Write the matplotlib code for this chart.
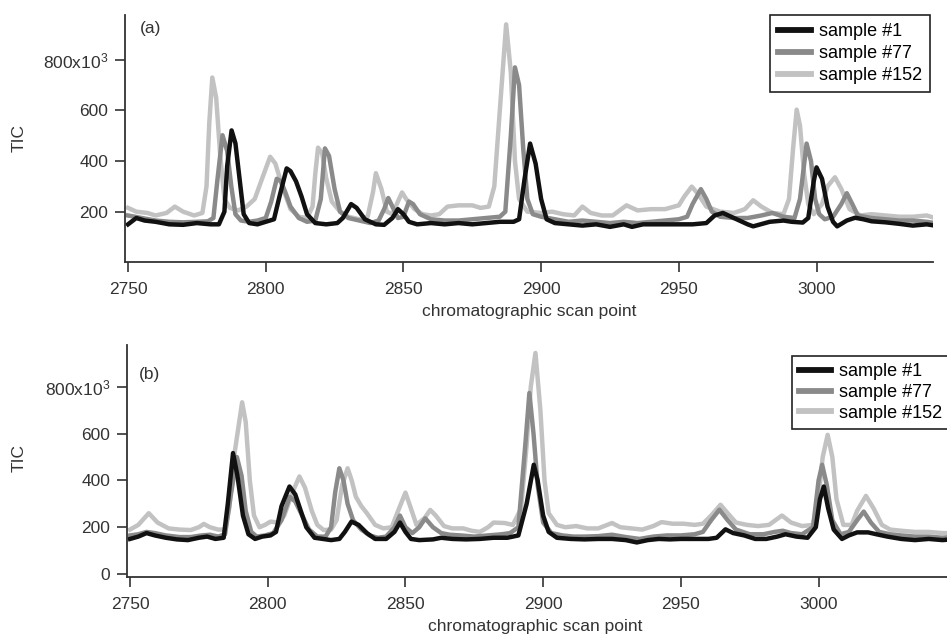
import numpy as np
import matplotlib
matplotlib.use("Agg")
import matplotlib.pyplot as plt

plt.rcParams['font.family'] = ['Liberation Sans', 'DejaVu Sans']
plt.rcParams['mathtext.fontset'] = 'custom'
plt.rcParams['mathtext.rm'] = 'Liberation Sans'
plt.rcParams['mathtext.it'] = 'Liberation Sans'

W, H = 947, 637

# ---- data (scan point, TIC in thousands) ----
# panel (a): raw chromatograms
a_s1_x = [2750, 2753, 2756, 2760, 2765, 2770, 2775, 2780, 2783, 2785, 2786, 2787.6, 2789, 2790.5, 2792, 2794,
          2797, 2800, 2803, 2805, 2807.6, 2809, 2811, 2813, 2815, 2818, 2822, 2826, 2828, 2831, 2833, 2836,
          2840, 2843, 2846, 2848, 2850, 2852, 2855, 2860, 2865, 2870, 2875, 2880, 2885, 2890, 2892, 2894,
          2896, 2898, 2900, 2902, 2905, 2910, 2915, 2920, 2925, 2930, 2933, 2937, 2945, 2950, 2955, 2960,
          2963, 2966, 2970, 2975, 2977, 2983, 2988, 2991, 2995, 2997, 2999, 3000, 3002, 3004, 3006, 3007.5,
          3011, 3014, 3017, 3020, 3025, 3030, 3035, 3040, 3043]
a_s1_y = [150, 175, 165, 160, 150, 148, 155, 150, 150, 200, 380, 521, 470, 330, 190, 155,
          150, 160, 170, 260, 371, 360, 320, 260, 190, 155, 150, 155, 175, 230, 215, 170,
          150, 148, 175, 210, 190, 160, 150, 155, 150, 155, 150, 155, 160, 160, 170, 330,
          469, 390, 250, 170, 155, 150, 145, 150, 140, 150, 140, 150, 150, 150, 150, 155,
          185, 195, 175, 150, 142, 160, 165, 160, 157, 175, 320, 375, 330, 220, 160, 142,
          165, 176, 170, 162, 158, 152, 145, 150, 145]

a_s77_x = [2750, 2755, 2760, 2765, 2770, 2775, 2779, 2781, 2782.5, 2784.3, 2786, 2787.5, 2789, 2791, 2794,
           2797, 2800, 2802, 2804, 2805.5, 2807, 2809, 2812, 2815, 2818, 2820, 2821.5, 2823, 2825, 2827,
           2830, 2834, 2838, 2841, 2843, 2844.5, 2846, 2848, 2850, 2852, 2853.5, 2856, 2860, 2865, 2870,
           2875, 2880, 2885, 2887, 2889, 2890.5, 2892, 2893.5, 2895, 2897, 2900, 2905, 2910, 2915, 2920,
           2925, 2930, 2935, 2940, 2945, 2950, 2953, 2955, 2958, 2960, 2962, 2965, 2970, 2975, 2980,
           2984, 2988, 2992, 2994, 2996.4, 2998, 2999.5, 3001, 3003, 3006, 3009, 3011, 3013, 3015, 3020,
           3025, 3030, 3035, 3040, 3043]
a_s77_y = [185, 175, 165, 160, 158, 160, 162, 175, 330, 502, 440, 300, 190, 165, 160,
           165, 175, 240, 330, 320, 280, 220, 175, 160, 165, 250, 450, 420, 290, 200,
           175, 165, 155, 165, 210, 254, 220, 175, 180, 240, 230, 190, 170, 165, 165,
           170, 175, 180, 200, 500, 770, 700, 450, 250, 190, 180, 170, 160, 165, 160,
           155, 160, 155, 160, 165, 170, 180, 230, 289, 250, 200, 180, 175, 175, 185,
           195, 180, 175, 250, 469, 400, 250, 190, 170, 180, 230, 273, 230, 185, 175,
           170, 165, 165, 160, 155]

a_s152_x = [2750, 2753, 2757, 2760, 2764, 2767, 2770, 2774, 2777, 2778.5, 2779.5, 2780.6, 2782, 2783.5, 2785,
            2787, 2790, 2793, 2796, 2799, 2801.6, 2803.5, 2806, 2809, 2812, 2815, 2817, 2818, 2819, 2820.5,
            2822, 2824, 2827, 2830, 2834, 2837, 2839, 2840, 2842, 2844, 2846, 2848, 2849.5, 2851, 2854,
            2857, 2860, 2863, 2866, 2870, 2875, 2878, 2881, 2883, 2885, 2887.3, 2889, 2890.5, 2892, 2895,
            2900, 2904, 2908, 2912, 2915, 2918, 2922, 2926, 2931, 2935, 2940, 2945, 2950, 2952, 2954.7,
            2957, 2960, 2965, 2970, 2974, 2977, 2980, 2984, 2988, 2990, 2991.5, 2992.8, 2994, 2995.5, 2997,
            2999, 3002, 3004, 3006.7, 3009, 3012, 3016, 3020, 3025, 3030, 3035, 3040, 3043]
a_s152_y = [215, 200, 195, 185, 195, 220, 200, 185, 195, 300, 550, 730, 650, 420, 250,
            215, 205, 220, 250, 340, 417, 390, 300, 210, 180, 175, 220, 350, 453, 430,
            330, 240, 200, 180, 170, 180, 280, 352, 290, 200, 190, 240, 276, 250, 210,
            190, 185, 190, 220, 225, 225, 215, 220, 300, 600, 940, 750, 400, 250, 200,
            195, 200, 190, 185, 220, 195, 185, 185, 225, 205, 210, 210, 225, 260, 299,
            270, 220, 200, 195, 210, 245, 220, 195, 190, 250, 450, 603, 540, 350, 230,
            190, 230, 300, 336, 290, 210, 185, 190, 185, 180, 180, 185, 175]

# panel (b): aligned chromatograms
b_s1_x = [2750, 2753, 2756, 2759, 2763, 2767, 2771, 2775, 2778, 2781, 2784, 2785.5, 2787.4, 2789, 2791,
          2793, 2795.4, 2798, 2801, 2803, 2805, 2807.9, 2810, 2812, 2814, 2817, 2820, 2823, 2826, 2828,
          2830.4, 2833, 2836, 2839, 2843, 2846, 2848, 2850, 2852, 2855, 2860, 2863, 2867, 2872, 2877,
          2882, 2887, 2891, 2894, 2896.6, 2898, 2900, 2902, 2905, 2910, 2915, 2920, 2925, 2930, 2934,
          2938, 2942, 2946, 2950, 2955, 2960, 2963, 2966.2, 2969, 2973, 2977, 2981, 2985, 2988, 2992,
          2996, 2999, 3000.5, 3001.9, 3003.5, 3005.5, 3008.5, 3011, 3014, 3018, 3021, 3025, 3030, 3035,
          3040, 3045, 3050]
b_s1_y = [150, 160, 175, 165, 155, 148, 145, 155, 160, 150, 155, 300, 517, 420, 250,
          170, 150, 160, 165, 180, 290, 374, 340, 270, 200, 155, 150, 145, 150, 180,
          224, 210, 175, 150, 150, 180, 220, 180, 150, 145, 148, 155, 150, 148, 150,
          155, 155, 165, 300, 467, 400, 250, 180, 155, 150, 148, 150, 150, 145, 135,
          145, 150, 148, 150, 150, 150, 155, 191, 175, 165, 150, 150, 160, 170, 160,
          155, 200, 320, 374, 280, 190, 150, 165, 178, 178, 170, 160, 150, 145,
          150, 145, 150]

b_s77_x = [2750, 2753, 2756, 2759, 2763, 2768, 2772, 2776, 2779, 2782, 2784.5, 2786.5, 2788.8, 2790.5, 2792,
           2794, 2796, 2799, 2802, 2805, 2808, 2810, 2812.5, 2815, 2818, 2821, 2823, 2824.5, 2826, 2827.5,
           2829, 2831, 2834, 2837, 2840, 2843, 2846, 2848, 2850, 2852.5, 2855, 2857.2, 2860, 2863, 2866,
           2870, 2875, 2880, 2885, 2888, 2891, 2893.5, 2895, 2896.5, 2898, 2900, 2903, 2907, 2911, 2915,
           2920, 2925, 2930, 2935, 2940, 2945, 2950, 2955, 2958, 2961, 2964, 2967, 2970, 2975, 2980,
           2984, 2987, 2990, 2994, 2998, 3000, 3001.3, 3003, 3005, 3008, 3011, 3014, 3016.4, 3019, 3022,
           3026, 3030, 3035, 3040, 3045, 3050]
b_s77_y = [165, 170, 180, 175, 165, 158, 158, 165, 168, 160, 170, 330, 500, 420, 270,
           180, 160, 165, 175, 230, 330, 310, 250, 190, 160, 160, 200, 350, 452, 400,
           300, 230, 190, 165, 155, 160, 200, 250, 200, 175, 200, 238, 200, 175, 168,
           165, 160, 165, 170, 175, 200, 550, 774, 600, 380, 220, 175, 165, 160, 160,
           162, 168, 158, 150, 160, 165, 165, 170, 180, 230, 275, 230, 190, 170, 170,
           180, 185, 175, 170, 200, 400, 467, 380, 230, 170, 180, 230, 267, 220, 180,
           170, 165, 160, 160, 155, 160]

b_s152_x = [2750, 2753, 2756.8, 2760, 2764, 2768, 2772, 2775, 2776.8, 2779, 2782, 2784.5, 2786, 2788, 2790.7,
            2792, 2793.5, 2795, 2797, 2799, 2801, 2804, 2806, 2809, 2811.5, 2813.5, 2816, 2818, 2820.3, 2823,
            2825, 2827, 2829, 2830.5, 2832, 2834, 2836, 2839, 2842, 2845, 2847, 2850, 2852, 2854, 2857,
            2859, 2861, 2864, 2867, 2871, 2874, 2877, 2880, 2882, 2886, 2889, 2892, 2894, 2895.5, 2897.2,
            2899, 2900.5, 2902, 2905, 2908, 2912, 2916, 2920, 2925, 2928, 2932, 2936, 2940, 2943, 2947,
            2951, 2955, 2958, 2961, 2964.4, 2967, 2970, 2974, 2978, 2982, 2986.7, 2990, 2994, 2998, 3000,
            3001.5, 3003.3, 3005, 3006.5, 3009, 3012, 3014, 3017.2, 3020, 3023, 3026, 3030, 3035, 3040,
            3045, 3050]
b_s152_y = [190, 210, 260, 220, 195, 190, 188, 200, 214, 200, 190, 190, 280, 520, 734,
            650, 400, 250, 200, 210, 224, 220, 250, 350, 417, 370, 270, 210, 188, 190,
            230, 380, 452, 400, 330, 290, 260, 210, 195, 200, 260, 348, 280, 210, 240,
            274, 250, 205, 195, 195, 185, 180, 200, 220, 218, 210, 280, 550, 800, 945,
            700, 400, 260, 210, 200, 205, 195, 195, 218, 200, 195, 190, 205, 222, 215,
            215, 210, 215, 250, 296, 260, 220, 210, 205, 210, 250, 220, 205, 210, 330,
            500, 595, 500, 320, 210, 210, 270, 334, 280, 210, 190, 185, 180, 180,
            175, 175]

labels = ['sample #1', 'sample #77', 'sample #152']
colors = ['#111111', '#8a8a8a', '#c2c2c2']
tick_x = [2750, 2800, 2850, 2900, 2950, 3000]

def px(x, y):
    # pixel position -> figure fraction
    return x / W, 1 - y / H

fig = plt.figure(figsize=(W / 100, H / 100), dpi=100)

def setup(ax, yticks, ylabels, xlim, ylim):
    ax.set_xlim(*xlim)
    ax.set_ylim(*ylim)
    for sp in ['top', 'right']:
        ax.spines[sp].set_visible(False)
    for sp in ['left', 'bottom']:
        ax.spines[sp].set_color('#333333')
        ax.spines[sp].set_linewidth(1.3)
    ax.set_xticks(tick_x)
    ax.set_xticklabels([str(t) for t in tick_x])
    ax.set_yticks(yticks)
    ax.set_yticklabels(ylabels)
    ax.tick_params(axis='both', direction='out', length=7, width=1.2, color='#333333',
                   labelsize=12.5, labelcolor='#333333')
    ax.tick_params(axis='x', pad=7)
    ax.tick_params(axis='y', pad=5)

def panel(ax, data):
    lines = []
    for (x, y), c, lab in reversed(list(zip(data, colors, labels))):
        ln, = ax.plot(x, y, color=c, lw=3.2, label=lab, solid_joinstyle='round')
        lines.append(ln)
    return lines[::-1]

def legend(ax, handles, corner, spacing, pad):
    leg = ax.legend(handles=handles, loc='upper left', bbox_to_anchor=px(*corner),
                    bbox_transform=fig.transFigure, borderaxespad=0, frameon=True,
                    fancybox=False, edgecolor='#222222', fontsize=13, handlelength=1.8,
                    handletextpad=0.45, labelspacing=spacing, borderpad=pad, framealpha=1)
    leg.get_frame().set_linewidth(1.2)
    for ln in leg.get_lines():
        ln.set_linewidth(4.2)

# top panel (a)
l, b = px(125, 262.3)
ax1 = fig.add_axes([l, b, (933 - 125) / W, (262.3 - 15) / H])
h1 = panel(ax1, [(a_s1_x, a_s1_y), (a_s77_x, a_s77_y), (a_s152_x, a_s152_y)])
setup(ax1, [200, 400, 600, 800], ['200', '400', '600', '800x10$^{3}$'], (2748.9, 3042.3), (0, 977))
ax1.set_xlabel('chromatographic scan point', fontsize=12.5, color='#333333')
ax1.xaxis.set_label_coords(*px(529, 304), transform=fig.transFigure)
ax1.set_ylabel('TIC', fontsize=12.5, color='#333333')
ax1.yaxis.set_label_coords(*px(27, 138), transform=fig.transFigure)
legend(ax1, h1, (770, 15), 0.28, 0.45)
fig.text(*px(140, 28), '(a)', fontsize=12.5, color='#333333', va='center', ha='left')

# bottom panel (b)
l, b = px(127, 577.3)
ax2 = fig.add_axes([l, b, (956 - 127) / W, (577.3 - 345) / H])
h2 = panel(ax2, [(b_s1_x, b_s1_y), (b_s77_x, b_s77_y), (b_s152_x, b_s152_y)])
setup(ax2, [0, 200, 400, 600, 800], ['0', '200', '400', '600', '800x10$^{3}$'], (2748.9, 3049.9), (-14, 979))
ax2.set_xlabel('chromatographic scan point', fontsize=12.5, color='#333333')
ax2.xaxis.set_label_coords(*px(535, 619), transform=fig.transFigure)
ax2.set_ylabel('TIC', fontsize=12.5, color='#333333')
ax2.yaxis.set_label_coords(*px(27, 458), transform=fig.transFigure)
legend(ax2, h2, (792, 356), 0.22, 0.38)
fig.text(*px(139, 375), '(b)', fontsize=12.5, color='#333333', va='center', ha='left')

fig.savefig('out.png', dpi=100)
